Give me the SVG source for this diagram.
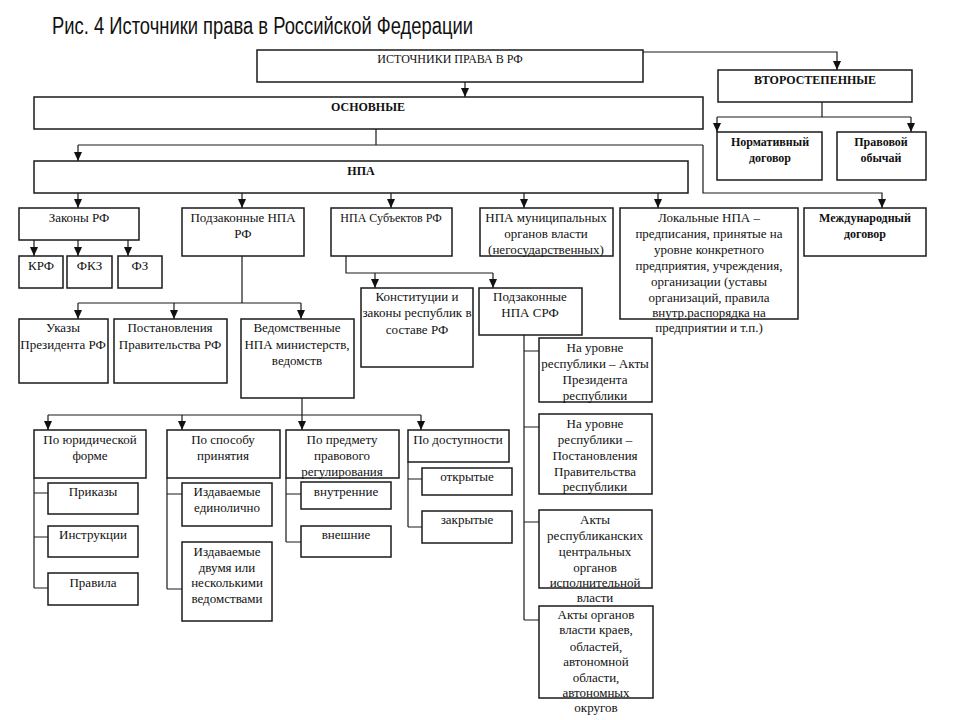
<svg xmlns="http://www.w3.org/2000/svg" width="960" height="720" viewBox="0 0 960 720">
<defs>
<marker id="ar" markerUnits="userSpaceOnUse" markerWidth="8" markerHeight="9" refX="4" refY="9" orient="0">
<path d="M0,0 L8,0 L4,9 z" fill="#111"/>
</marker>
<style>
.b{fill:#fff;stroke:#1a1a1a;stroke-width:1.5}
.c{fill:none;stroke:#1a1a1a;stroke-width:1.2}
.t{font-family:"Liberation Serif","Times New Roman",serif;font-size:13px;fill:#111;text-anchor:middle}
.s{font-size:12px}
.h{font-family:"Liberation Serif","Times New Roman",serif;font-size:12px;font-weight:bold;fill:#111;text-anchor:middle}
.ti{font-family:"Liberation Sans",Arial,sans-serif;font-size:23px;fill:#111}
</style>
</defs>
<rect width="960" height="720" fill="#fff"/>
<text class="ti" x="52" y="34" textLength="421" lengthAdjust="spacingAndGlyphs">Рис. 4 Источники права в Российской Федерации</text>

<g id="connectors">
<path class="c" d="M465,82 V97" marker-end="url(#ar)"/>
<path class="c" d="M643,52 H837 V70" marker-end="url(#ar)"/>
<path class="c" d="M822,102 V117 M717,117 H911"/>
<path class="c" d="M717,117 V132" marker-end="url(#ar)"/>
<path class="c" d="M911,117 V132" marker-end="url(#ar)"/>
<path class="c" d="M376,129 V145 M78,145 H703"/>
<path class="c" d="M78,145 V161" marker-end="url(#ar)"/>
<path class="c" d="M703,145 V193 H882 V208" marker-end="url(#ar)"/>
<path class="c" d="M78,193 V208" marker-end="url(#ar)"/>
<path class="c" d="M242,193 V208" marker-end="url(#ar)"/>
<path class="c" d="M391,193 V208" marker-end="url(#ar)"/>
<path class="c" d="M524,193 V208" marker-end="url(#ar)"/>
<path class="c" d="M658,193 V208" marker-end="url(#ar)"/>
<path class="c" d="M34,240 V256" marker-end="url(#ar)"/>
<path class="c" d="M78,240 V256" marker-end="url(#ar)"/>
<path class="c" d="M128,240 V256" marker-end="url(#ar)"/>
<path class="c" d="M242,256 V303 M78,303 H301"/>
<path class="c" d="M78,303 V319" marker-end="url(#ar)"/>
<path class="c" d="M174,303 V319" marker-end="url(#ar)"/>
<path class="c" d="M301,303 V319" marker-end="url(#ar)"/>
<path class="c" d="M302,398 V415 M48,415 H421"/>
<path class="c" d="M48,415 V430" marker-end="url(#ar)"/>
<path class="c" d="M182,415 V430" marker-end="url(#ar)"/>
<path class="c" d="M302,415 V430" marker-end="url(#ar)"/>
<path class="c" d="M421,415 V430" marker-end="url(#ar)"/>
<path class="c" d="M34,478 V588 M34,493 H48 M34,537 H48 M34,588 H48"/>
<path class="c" d="M167,478 V589 M167,494 H182 M167,589 H182"/>
<path class="c" d="M286,478 V542 M286,494 H301 M286,542 H301"/>
<path class="c" d="M408,462 V527 M408,479 H422 M408,527 H422"/>
<path class="c" d="M346,256 V273 H493"/>
<path class="c" d="M375,273 V288" marker-end="url(#ar)"/>
<path class="c" d="M493,273 V288" marker-end="url(#ar)"/>
<path class="c" d="M524,335 V620 M524,351 H539 M524,427 H539 M524,522 H539 M524,620 H539"/>
</g>

<g id="n-root"><rect class="b" x="257" y="50" width="386" height="32"/><text class="t s" x="450" y="63">ИСТОЧНИКИ ПРАВА В РФ</text></g>
<g id="n-osn"><rect class="b" x="34" y="97" width="669" height="32"/><text class="h" x="368" y="111">ОСНОВНЫЕ</text></g>
<g id="n-vtor"><rect class="b" x="718" y="70" width="194" height="32"/><text class="h" x="815" y="84">ВТОРОСТЕПЕННЫЕ</text></g>
<g id="n-normdog"><rect class="b" x="717" y="132" width="105" height="48"/><text class="h" x="770" y="146">Нормативный</text><text class="h" x="770" y="162">договор</text></g>
<g id="n-obych"><rect class="b" x="837" y="132" width="89" height="48"/><text class="h" x="881" y="146">Правовой</text><text class="h" x="881" y="162">обычай</text></g>
<g id="n-npa"><rect class="b" x="34" y="161" width="654" height="32"/><text class="h" x="361" y="175">НПА</text></g>

<g id="n-zakony"><rect class="b" x="19" y="208" width="120" height="32"/><text class="t" x="79" y="222">Законы РФ</text></g>
<g id="n-podzak"><rect class="b" x="182" y="208" width="122" height="48"/><text class="t" x="243" y="222">Подзаконные НПА</text><text class="t" x="243" y="238">РФ</text></g>
<g id="n-subj"><rect class="b" x="331" y="208" width="121" height="48"/><text class="t s" x="391" y="222">НПА Субъектов РФ</text></g>
<g id="n-munic"><rect class="b" x="480" y="208" width="133" height="48"/><text class="t" x="546" y="222">НПА муниципальных</text><text class="t" x="546" y="238">органов власти</text><text class="t" x="546" y="254">(негосударственных)</text></g>
<g id="n-local"><rect class="b" x="620" y="208" width="178" height="111"/>
<text class="t" x="709" y="222">Локальные НПА –</text><text class="t" x="709" y="238">предписания, принятые на</text><text class="t" x="709" y="254">уровне конкретного</text><text class="t" x="709" y="270">предприятия, учреждения,</text><text class="t" x="709" y="286">организации (уставы</text><text class="t" x="709" y="302">организаций, правила</text><text class="t" x="709" y="317">внутр.распорядка на</text><text class="t" x="709" y="332">предприятии и т.п.)</text></g>
<g id="n-mezhd"><rect class="b" x="804" y="208" width="122" height="48"/><text class="h" x="865" y="222">Международный</text><text class="h" x="865" y="238">договор</text></g>

<g id="n-krf"><rect class="b" x="19" y="256" width="44" height="32"/><text class="t" x="41" y="270">КРФ</text></g>
<g id="n-fkz"><rect class="b" x="67" y="256" width="45" height="32"/><text class="t" x="89.5" y="270">ФКЗ</text></g>
<g id="n-fz"><rect class="b" x="118" y="256" width="44" height="32"/><text class="t" x="140" y="270">ФЗ</text></g>

<g id="n-ukazy"><rect class="b" x="19" y="319" width="89" height="64"/><text class="t" x="63" y="332">Указы</text><text class="t" x="63" y="349">Президента РФ</text></g>
<g id="n-postpr"><rect class="b" x="114" y="319" width="113" height="64"/><text class="t" x="170" y="332">Постановления</text><text class="t" x="170" y="349">Правительства РФ</text></g>
<g id="n-vedom"><rect class="b" x="241" y="319" width="113" height="79"/><text class="t" x="297" y="332">Ведомственные</text><text class="t" x="297" y="349">НПА министерств,</text><text class="t" x="297" y="365">ведомств</text></g>

<g id="n-konst"><rect class="b" x="361" y="288" width="112" height="79"/><text class="t" x="417" y="301">Конституции и</text><text class="t" x="417" y="317">законы республик в</text><text class="t" x="417" y="334">составе РФ</text></g>
<g id="n-podsrf"><rect class="b" x="479" y="288" width="103" height="47"/><text class="t" x="530" y="301">Подзаконные</text><text class="t" x="530" y="317">НПА СРФ</text></g>

<g id="n-pres"><rect class="b" x="539" y="338" width="113" height="64"/><text class="t" x="595" y="352">На уровне</text><text class="t" x="595" y="368">республики – Акты</text><text class="t" x="595" y="384">Президента</text><text class="t" x="595" y="400">республики</text></g>
<g id="n-prav"><rect class="b" x="539" y="414" width="113" height="80"/><text class="t" x="595" y="428">На уровне</text><text class="t" x="595" y="444">республики –</text><text class="t" x="595" y="460">Постановления</text><text class="t" x="595" y="476">Правительства</text><text class="t" x="595" y="491">республики</text></g>
<g id="n-central"><rect class="b" x="539" y="510" width="113" height="78"/><text class="t" x="595" y="524">Акты</text><text class="t" x="595" y="540">республиканских</text><text class="t" x="595" y="556">центральных</text><text class="t" x="595" y="572">органов</text><text class="t" x="595" y="587">исполнительной</text><text class="t" x="595" y="602">власти</text></g>
<g id="n-kraev"><rect class="b" x="539" y="606" width="114" height="92"/><text class="t" x="596" y="619">Акты органов</text><text class="t" x="596" y="634">власти краев,</text><text class="t" x="596" y="651">областей,</text><text class="t" x="596" y="666">автономной</text><text class="t" x="596" y="682">области,</text><text class="t" x="596" y="697">автономных</text><text class="t" x="596" y="712">округов</text></g>

<g id="n-yurform"><rect class="b" x="34" y="430" width="112" height="48"/><text class="t" x="90" y="444">По юридической</text><text class="t" x="90" y="460">форме</text></g>
<g id="n-sposob"><rect class="b" x="167" y="430" width="113" height="48"/><text class="t" x="223" y="444">По способу</text><text class="t" x="223" y="460">принятия</text></g>
<g id="n-predmet"><rect class="b" x="286" y="430" width="113" height="48"/><text class="t" x="342" y="444">По предмету</text><text class="t" x="342" y="460">правового</text><text class="t" x="342" y="476">регулирования</text></g>
<g id="n-dostup"><rect class="b" x="408" y="430" width="101" height="32"/><text class="t" x="458" y="444">По доступности</text></g>

<g id="n-prikazy"><rect class="b" x="48" y="483" width="90" height="31"/><text class="t" x="93" y="496">Приказы</text></g>
<g id="n-instr"><rect class="b" x="48" y="526" width="90" height="31"/><text class="t" x="93" y="539">Инструкции</text></g>
<g id="n-pravila"><rect class="b" x="48" y="573" width="90" height="32"/><text class="t" x="93" y="587">Правила</text></g>
<g id="n-edin"><rect class="b" x="182" y="483" width="90" height="43"/><text class="t" x="227" y="496">Издаваемые</text><text class="t" x="227" y="512">единолично</text></g>
<g id="n-dvumya"><rect class="b" x="182" y="542" width="90" height="79"/><text class="t" x="227" y="556">Издаваемые</text><text class="t" x="227" y="572">двумя или</text><text class="t" x="227" y="587">несколькими</text><text class="t" x="227" y="603">ведомствами</text></g>
<g id="n-vnutr"><rect class="b" x="301" y="482" width="90" height="27"/><text class="t" x="346" y="496">внутренние</text></g>
<g id="n-vnesh"><rect class="b" x="301" y="526" width="90" height="31"/><text class="t" x="346" y="539">внешние</text></g>
<g id="n-otkr"><rect class="b" x="422" y="468" width="90" height="27"/><text class="t" x="467" y="481">открытые</text></g>
<g id="n-zakr"><rect class="b" x="422" y="511" width="90" height="32"/><text class="t" x="467" y="524">закрытые</text></g>
</svg>
